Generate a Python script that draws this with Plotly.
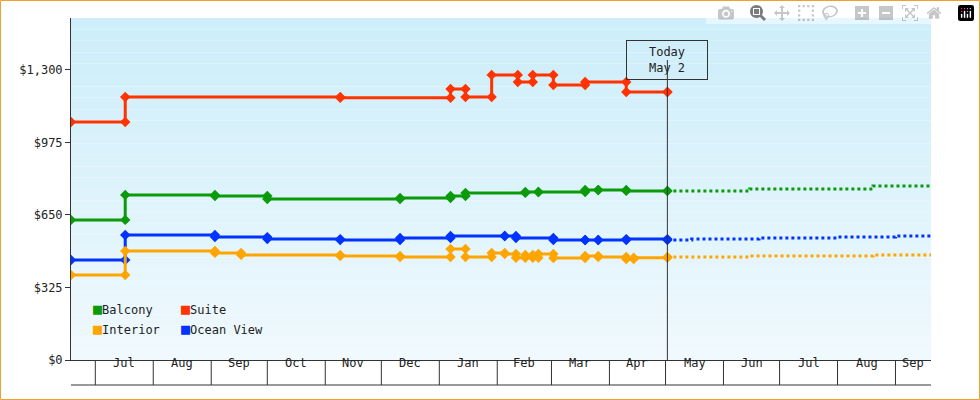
import plotly.graph_objects as go
import pandas as pd

suite_dates = ["2023-06-18","2023-07-17","2023-11-09","2024-01-07","2024-01-15","2024-01-29","2024-02-12","2024-02-20","2024-03-02","2024-03-19","2024-04-10","2024-05-02"]
suite_prices = [1067,1179,1175,1215,1179,1278,1246,1278,1233,1246,1201,1201]

balcony_dates = ["2023-06-18","2023-07-17","2023-09-03","2023-10-01","2023-12-11","2024-01-07","2024-01-15","2024-02-16","2024-02-23","2024-03-19","2024-03-26","2024-04-10","2024-05-02"]
balcony_prices = [628,740,735,722,726,735,749,753,753,762,762,758,758]
balcony_future_dates = ["2024-05-02","2024-06-15","2024-08-20","2024-09-20"]
balcony_future_prices = [758,767,780,780]

ocean_dates = ["2023-06-18","2023-07-17","2023-09-03","2023-10-01","2023-11-09","2023-12-11","2024-01-07","2024-02-05","2024-02-11","2024-03-02","2024-03-19","2024-03-26","2024-04-10","2024-05-02"]
ocean_prices = [448,560,551,542,538,547,556,556,547,538,538,538,542,538]
ocean_future_dates = ["2024-05-02","2024-05-15","2024-06-20","2024-08-01","2024-09-01","2024-09-20"]
ocean_future_prices = [538,542,547,551,556,556]

interior_dates = ["2023-06-18","2023-07-17","2023-09-03","2023-09-17","2023-11-09","2023-12-11","2024-01-07","2024-01-15","2024-01-29","2024-02-05","2024-02-11","2024-02-16","2024-02-20","2024-02-23","2024-03-02","2024-03-19","2024-03-26","2024-04-10","2024-04-14","2024-05-02"]
interior_prices = [381,489,480,471,466,462,498,462,480,475,458,471,458,475,457,466,462,453,458,462]
interior_future_dates = ["2024-05-02","2024-06-15","2024-08-20","2024-09-20"]
interior_future_prices = [462,466,471,475]

month_labels = ["Jul","Aug","Sep","Oct","Nov","Dec","Jan","Feb","Mar","Apr","May","Jun","Jul","Aug","Sep"]
month_starts = ["2023-07-01","2023-08-01","2023-09-01","2023-10-01","2023-11-01","2023-12-01","2024-01-01","2024-02-01","2024-03-01","2024-04-01","2024-05-01","2024-06-01","2024-07-01","2024-08-01","2024-09-01","2024-10-01"]
y_ticks = [0,325,650,975,1300]
y_labels = ["$0","$325","$650","$975","$1,300"]

X0, X1 = "2023-06-18", "2024-09-20"
FONT = "DejaVu Sans Mono"

def step(d, p):
    xs, ys = [d[0]], [p[0]]
    for i in range(1, len(d)):
        xs += [d[i], d[i]]
        ys += [p[i-1], p[i]]
    return xs, ys

fig = go.Figure()
series = [
    (suite_dates, suite_prices, None, None, "#ff3300"),
    (balcony_dates, balcony_prices, balcony_future_dates, balcony_future_prices, "#0a9a0a"),
    (ocean_dates, ocean_prices, ocean_future_dates, ocean_future_prices, "#0033ff"),
    (interior_dates, interior_prices, interior_future_dates, interior_future_prices, "#ffa500"),
]
for d, p, fd, fp, c in series:
    if fd:
        xs, ys = step(fd, fp)
        fig.add_trace(go.Scatter(x=xs, y=ys, mode="lines", line=dict(color=c, width=3, dash="dot"),
                                 showlegend=False, hoverinfo="skip"))
    xs, ys = step(d, p)
    fig.add_trace(go.Scatter(x=xs, y=ys, mode="lines+markers", line=dict(color=c, width=3),
                             marker=dict(symbol="diamond", size=8, color=c), showlegend=False))

shapes = []
top = (205, 238, 250); bot = (240, 249, 254)
N = 30
for i in range(N):
    t = i / (N - 1)
    col = tuple(int(top[k] + (bot[k] - top[k]) * t) for k in range(3))
    shapes.append(dict(type="rect", xref="paper", yref="paper", x0=0, x1=1,
                       y0=1 - (i + 1) / N, y1=1 - i / N, fillcolor="rgb(%d,%d,%d)" % col,
                       line=dict(width=0), layer="below"))
for m in month_starts[:-1]:
    shapes.append(dict(type="line", xref="x", yref="paper", x0=m, x1=m, y0=0, y1=-25/342,
                       line=dict(color="#333", width=1)))
shapes.append(dict(type="line", xref="paper", yref="paper", x0=0, x1=1, y0=-25/342, y1=-25/342,
                   line=dict(color="#333", width=1)))
shapes.append(dict(type="line", xref="x", yref="paper", x0="2024-05-02", x1="2024-05-02",
                   y0=0, y1=(360-60)/342, line=dict(color="#333", width=1)))
W, H = 860, 342
shapes.append(dict(type="rect", xref="paper", yref="paper", x0=-70.5/W, x1=1+48.5/W,
                   y0=-39.5/H, y1=1+17.5/H, line=dict(color="#f0a030", width=1)))

annotations = []
ms = pd.to_datetime(month_starts)
for i, lab in enumerate(month_labels):
    a = ms[i]; b = min(ms[i+1], pd.Timestamp(X1))
    mid = a + (b - a) / 2
    annotations.append(dict(x=mid, y=-12/342, xref="x", yref="paper", text=lab, showarrow=False,
                            font=dict(size=12, color="#222", family=FONT)))
annotations.append(dict(x="2024-05-02", y=(360-40)/342, xref="x", yref="paper",
                        text="Today<br>May 2", showarrow=False, bgcolor="rgba(0,0,0,0)",
                        bordercolor="#333", borderwidth=1, borderpad=4, width=72,
                        font=dict(size=12, color="#222", family=FONT)))
legend_items = [("Balcony", "#0a9a0a", 91, 320), ("Suite", "#ff3300", 179, 320),
                ("Interior", "#ffa500", 91, 340), ("Ocean View", "#0033ff", 179, 340)]
for name, c, px, py in legend_items:
    annotations.append(dict(x=(px-71)/W, y=(360-py)/H, xref="paper", yref="paper", xanchor="left",
                            text="<span style='color:%s;font-size:15px'>■</span>%s" % (c, name), showarrow=False,
                            font=dict(size=12, color="#222", family=FONT)))

fig.update_layout(
    width=980, height=400, margin=dict(l=71, r=49, t=18, b=40),
    paper_bgcolor="white", plot_bgcolor="rgba(0,0,0,0)",
    shapes=shapes, annotations=annotations,
    font=dict(family=FONT, size=12, color="#222"),
    xaxis=dict(range=[X0, X1], showgrid=False, showticklabels=False, ticks="",
               showline=True, linecolor="#333", zeroline=False),
    yaxis=dict(range=[0, 1533], tickvals=y_ticks, ticktext=y_labels, ticks="outside", ticklen=5,
               tickcolor="#333", showgrid=False, showline=True, linecolor="#333", zeroline=False),
    showlegend=False,
)
fig.write_html("out.html", post_script="document.body.style.margin='0';")
